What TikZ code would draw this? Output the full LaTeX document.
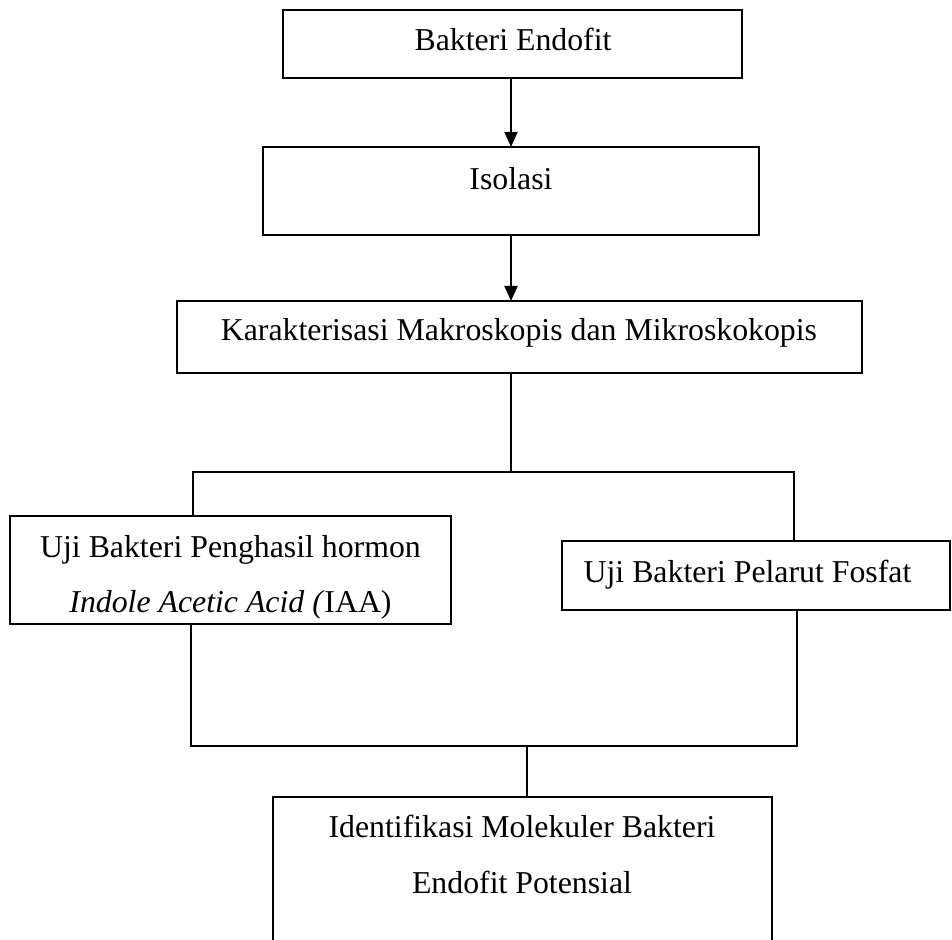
\documentclass[tikz,border=0pt]{standalone}
\usepackage{fontspec}
\setmainfont{Liberation Serif}
\usetikzlibrary{arrows.meta}
\begin{document}
\begin{tikzpicture}[x=0.5pt,y=-0.5pt,
  box/.style={draw, line width=1pt, rectangle, inner sep=0pt, outer sep=0pt},
  txt/.style={inner sep=0pt, outer sep=0pt, anchor=base, font=\fontsize{15.9pt}{19pt}\selectfont},
  conn/.style={line width=0.8pt},
  arr/.style={line width=1pt, -{Triangle[width=6.5pt,length=7.5pt]}}]
\useasboundingbox (0,0) rectangle (952,940);
% boxes
\node[box, minimum width=229.5pt, minimum height=34pt] (b1) at (512.5,44) {};
\node[box, minimum width=248pt, minimum height=44pt] (b2) at (511,191) {};
\node[box, minimum width=342.5pt, minimum height=36pt] (b3) at (519.5,337) {};
\node[box, minimum width=220.5pt, minimum height=54pt] (b4) at (230.5,570) {};
\node[box, minimum width=194pt, minimum height=34.5pt] (b5) at (756,575.5) {};
\node[box, minimum width=249.5pt, minimum height=81.5pt] (b6) at (522.5,878.5) {};
% texts
\node[txt] (t1) at (513,50.7) {Bakteri Endofit};
\node[txt] (t2) at (511,189.3) {Isolasi};
\node[txt] (t3) at (519,341) {Karakterisasi Makroskopis dan Mikroskokopis};
\node[txt] (t4a) at (230.5,557) {Uji Bakteri Penghasil hormon};
\node[txt] (t4b) at (230.5,612.5) {\textit{Indole Acetic Acid (}IAA)};
\node[txt] (t5) at (747.5,582) {Uji Bakteri Pelarut Fosfat};
\node[txt] (t6a) at (522,837) {Identifikasi Molekuler Bakteri};
\node[txt] (t6b) at (522,893) {Endofit Potensial};
% junction coordinates
\coordinate (a1) at (511,0);
\coordinate (jm) at (511,472);
\coordinate (tl) at (193,472);
\coordinate (tr) at (794,472);
\coordinate (bl) at (191,746);
\coordinate (br) at (797,746);
\coordinate (bm) at (527,746);
% arrows
\draw[arr] (a1 |- b1.south) -- (a1 |- b2.north);
\draw[arr] (a1 |- b2.south) -- (a1 |- b3.north);
% branching
\draw[conn] (jm |- b3.south) -- (jm);
\draw[conn] (tl |- b4.north) -- (tl) -- (tr) -- (tr |- b5.north);
\draw[conn] (bl |- b4.south) -- (bl) -- (br) -- (br |- b5.south);
\draw[conn] (bm) -- (bm |- b6.north);
\end{tikzpicture}
\end{document}
